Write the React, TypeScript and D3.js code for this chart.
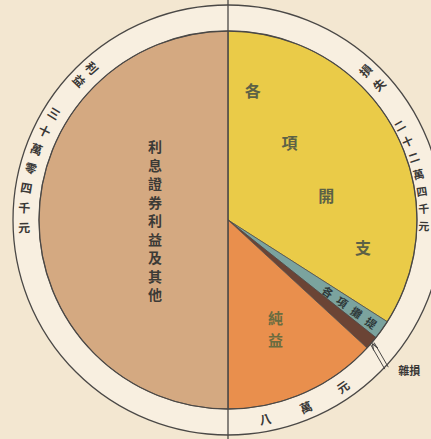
import React from 'react';
import * as d3 from 'd3';

// ---- data ----
const categories = ['各項開支', '各項攤提', '雜損', '純益', '利息證券利益及其他'];
const values = [207000, 10000, 7000, 80000, 304000];
const colors = ['#eacb48', '#7ba39e', '#6b4435', '#e98f4d', '#d4a981'];
const lossTitle = '損失';
const lossAmount = '二十二萬四千元';
const gainTitle = '利益';
const gainAmount = '三十萬零四千元';
const profitAmount = '八萬元';

const W = 431;
const H = 439;
const cx = 228;
const cy = 220;
const r = 189;
const R = 215;
const LINE = '#4a4846';
const FONT = '"Noto Sans CJK TC", "Noto Sans CJK SC", sans-serif';

function polar(deg: number, rad: number): [number, number] {
  const a = (deg * Math.PI) / 180;
  return [cx + rad * Math.sin(a), cy - rad * Math.cos(a)];
}

type RingProps = { text: string; start: number; step: number; rad: number; rot: (deg: number) => number; size?: number };
function RingText({ text, start, step, rad, rot, size = 12 }: RingProps) {
  return (
    <g>
      {Array.from(text).map((ch, i) => {
        const deg = start + i * step;
        const [x, y] = polar(deg, rad);
        return (
          <text key={i} x={x} y={y} fontSize={size} fontFamily={FONT} fill="#3a3836" fontWeight={700}
            textAnchor="middle" dominantBaseline="central" transform={`rotate(${rot(deg)},${x},${y})`}>
            {ch}
          </text>
        );
      })}
    </g>
  );
}

export default function App() {
  const pie = d3.pie<number>().sort(null).value((d) => d)(values);
  const arc = d3.arc<d3.PieArcDatum<number>>().innerRadius(0).outerRadius(r);
  const deg = (a: number) => (a * 180) / Math.PI;
  const mid = (p: d3.PieArcDatum<number>) => deg((p.startAngle + p.endAngle) / 2);

  // expenses label along a diagonal
  const expMid = polar(mid(pie[0]), r * 0.5);
  const expChars = Array.from(categories[0]);
  const dirA = (55 * Math.PI) / 180;
  const stepE = 64;

  // amortization label along the slice
  const amMid = mid(pie[1]);
  const amChars = Array.from(categories[1]);

  // net profit label
  const prof = polar(mid(pie[3]), 118);
  const profChars = Array.from(categories[3]);

  // income label
  const inc = polar(mid(pie[4]), 73);
  const incChars = Array.from(categories[4]);

  // misc loss arrow
  const brownMid = mid(pie[2]);
  const tip = polar(brownMid, r + 1);
  const tail = polar(brownMid + 2.5, R + 2);
  const ang = Math.atan2(tip[1] - tail[1], tip[0] - tail[0]);
  const nx = -Math.sin(ang) * 2;
  const ny = Math.cos(ang) * 2;
  const ah = 7;
  const head = `M${tip[0]},${tip[1]} L${tip[0] - ah * Math.cos(ang - 0.35)},${tip[1] - ah * Math.sin(ang - 0.35)} M${tip[0]},${tip[1]} L${tip[0] - ah * Math.cos(ang + 0.35)},${tip[1] - ah * Math.sin(ang + 0.35)}`;
  const labelPos = polar(brownMid - 1, R + 20);

  return (
    <svg width={W} height={H} style={{ position: 'absolute', left: 0, top: 0 }}>
      <rect x={0} y={0} width={W} height={H} fill="#f3e7d1" />
      <circle cx={cx} cy={cy} r={R} fill="#f8efe0" stroke={LINE} strokeWidth={1.3} />
      <g transform={`translate(${cx},${cy})`}>
        {pie.map((p, i) => (
          <path key={i} d={arc(p) || ''} fill={colors[i]} stroke={LINE} strokeWidth={0.7} />
        ))}
      </g>
      <circle cx={cx} cy={cy} r={r} fill="none" stroke={LINE} strokeWidth={1.3} />
      <line x1={cx} y1={0} x2={cx} y2={H} stroke={LINE} strokeWidth={1.3} />

      {/* expenses */}
      {expChars.map((ch, i) => {
        const k = i - (expChars.length - 1) / 2;
        const x = expMid[0] - 3 + k * stepE * Math.cos(dirA);
        const y = expMid[1] - 6 + k * stepE * Math.sin(dirA);
        return (
          <text key={i} x={x} y={y} fontSize={16} fontFamily={FONT} fill="#5c6146" fontWeight={700}
            textAnchor="middle" dominantBaseline="central">{ch}</text>
        );
      })}

      {/* amortization */}
      {amChars.map((ch, i) => {
        const [x, y] = polar(amMid, 123 + i * 17.7);
        return (
          <text key={i} x={x} y={y} fontSize={11} fontFamily={FONT} fill="#2f3a3a" fontWeight={700}
            textAnchor="middle" dominantBaseline="central" transform={`rotate(${amMid - 90},${x},${y})`}>{ch}</text>
        );
      })}

      {/* net profit */}
      {profChars.map((ch, i) => (
        <text key={i} x={prof[0]} y={prof[1] - 11 + i * 22} fontSize={15} fontFamily={FONT} fill="#6a6c40" fontWeight={700}
          textAnchor="middle" dominantBaseline="central">{ch}</text>
      ))}

      {/* income */}
      {incChars.map((ch, i) => (
        <text key={i} x={inc[0]} y={inc[1] + (i - (incChars.length - 1) / 2) * 18.5} fontSize={14} fontFamily={FONT}
          fill="#3c3a36" fontWeight={700} textAnchor="middle" dominantBaseline="central">{ch}</text>
      ))}

      {/* misc loss arrow + label */}
      <line x1={tip[0] + nx} y1={tip[1] + ny} x2={tail[0] + nx} y2={tail[1] + ny} stroke={LINE} strokeWidth={1} />
      <line x1={tip[0] - nx} y1={tip[1] - ny} x2={tail[0] - nx} y2={tail[1] - ny} stroke={LINE} strokeWidth={1} />
      <path d={head} stroke={LINE} strokeWidth={1.1} fill="none" />
      <text x={labelPos[0]} y={labelPos[1]} fontSize={11} fontFamily={FONT} fill="#3a3836" fontWeight={700}
        textAnchor="middle" dominantBaseline="central">{categories[2]}</text>

      {/* ring texts */}
      <RingText text={lossTitle} start={42.4} step={5.6} rad={203} rot={(d) => d - 90} />
      <RingText text={lossAmount} start={61} step={5.1} rad={196} rot={(d) => d - 90} size={11} />
      <RingText text={gainTitle} start={318.3} step={-5} rad={204} rot={(d) => d - 270} />
      <RingText text={gainAmount} start={301.7} step={-5.6} rad={204} rot={(d) => d - 270} />
      <RingText text={profitAmount} start={169.4} step={-12} rad={202} rot={(d) => d - 180} />
    </svg>
  );
}
